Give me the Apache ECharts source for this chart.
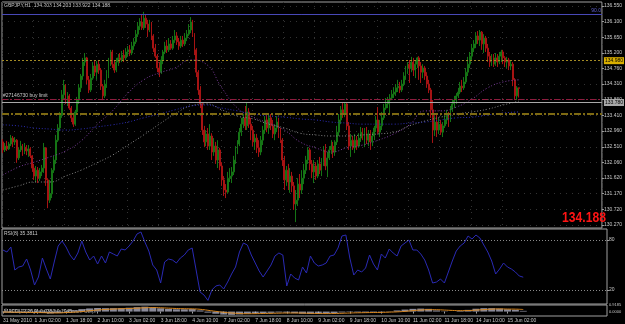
<!DOCTYPE html>
<html>
<head>
<meta charset="utf-8">
<title>GBPJPY,H1</title>
<script src="https://cdn.jsdelivr.net/npm/echarts@6.0.0/dist/echarts.min.js"></script>
<style>
    html, body { margin: 0; padding: 0; background: #000; }
    #chart { width: 625px; height: 324px; }
</style>
</head>
<body>
<div id="chart"></div>
<script type="text/javascript">
// hourly bars, [open, close, low, high], one array per trading day
var may31 = [[132.65,132.42,132.33,132.73],[132.42,132.53,132.36,132.62],[132.53,132.45,132.39,132.68],[132.45,132.59,132.42,132.65],[132.59,132.76,132.53,132.85],[132.76,132.65,132.50,132.82],[132.65,132.70,132.56,132.79],[132.70,132.19,132.05,132.73],[132.19,132.42,132.13,132.50],[132.42,132.53,132.36,132.68],[132.53,132.36,132.25,132.59],[132.36,132.50,132.30,132.62],[132.50,132.39,132.27,132.56],[132.39,132.45,132.22,132.56]];
var jun01 = [[132.45,132.25,132.19,132.50],[132.25,131.90,131.79,132.27],[131.90,131.67,131.56,132.02],[131.67,131.84,131.50,131.96],[131.84,131.61,131.47,131.93],[131.61,131.79,131.53,131.90],[131.79,131.90,131.67,131.99],[131.90,132.48,131.76,132.62],[132.48,131.56,131.39,132.50],[131.56,130.98,130.75,131.61],[130.98,131.16,130.90,131.56],[131.16,131.84,131.04,131.90],[131.84,132.13,131.76,132.25],[132.13,132.70,132.02,132.85],[132.70,133.05,132.65,133.16],[133.05,133.42,132.96,133.51],[133.42,134.00,133.34,134.14],[134.00,134.28,133.85,134.43],[134.28,133.85,133.74,134.31],[133.85,133.97,133.68,134.08],[133.97,133.62,133.57,134.02],[133.62,133.34,133.22,133.68],[133.34,133.16,133.08,133.45],[133.16,133.51,133.11,133.57]];
var jun02 = [[133.51,133.85,133.45,133.94],[133.85,134.20,133.74,134.31],[134.20,134.54,134.08,134.60],[134.54,134.94,134.43,135.06],[134.94,135.06,134.83,135.20],[135.06,134.43,134.31,135.09],[134.43,134.14,134.05,134.54],[134.14,134.48,134.08,134.60],[134.48,134.83,134.43,134.94],[134.83,134.65,134.54,135.00],[134.65,134.88,134.43,134.97],[134.88,134.71,134.60,135.00],[134.71,134.25,134.14,134.77],[134.25,133.97,133.85,134.31],[133.97,134.31,133.91,134.43],[134.31,134.60,134.20,134.71],[134.60,134.94,134.48,135.06],[134.94,135.23,134.83,135.29],[135.23,134.88,134.77,135.29],[134.88,134.71,134.63,135.00],[134.71,134.94,134.65,135.06],[134.94,135.06,134.83,135.17],[135.06,135.00,134.91,135.20],[135.00,135.14,134.94,135.26]];
var jun03 = [[135.14,135.06,134.94,135.29],[135.06,135.23,135.00,135.34],[135.23,135.29,135.11,135.40],[135.29,135.20,135.11,135.43],[135.20,135.40,135.14,135.52],[135.40,135.52,135.29,135.63],[135.52,135.74,135.46,135.86],[135.74,135.97,135.66,136.09],[135.97,136.09,135.86,136.20],[136.09,135.92,135.86,136.29],[135.92,136.20,135.86,136.38],[136.20,136.03,135.92,136.32],[136.03,135.86,135.66,136.15],[135.86,135.97,135.80,136.15],[135.97,135.69,135.57,136.09],[135.69,135.34,135.23,135.74],[135.34,135.11,135.06,135.46],[135.11,134.77,134.65,135.17],[134.77,134.65,134.51,134.94],[134.65,135.00,134.60,135.11],[135.00,135.23,134.88,135.29],[135.23,135.40,135.17,135.52],[135.40,135.29,135.20,135.57],[135.29,135.46,135.23,135.63]];
var jun04 = [[135.46,135.34,135.29,135.57],[135.34,135.57,135.29,135.69],[135.57,135.69,135.49,135.86],[135.69,135.52,135.43,135.80],[135.52,135.40,135.29,135.63],[135.40,135.57,135.34,135.69],[135.57,135.46,135.37,135.69],[135.46,135.63,135.40,135.77],[135.63,135.74,135.54,135.86],[135.74,135.86,135.69,136.03],[135.86,136.09,135.77,136.23],[136.09,135.74,135.66,136.15],[135.74,135.29,135.14,135.77],[135.29,134.65,134.51,135.34],[134.65,134.14,134.00,134.71],[134.14,133.74,133.62,134.25],[133.74,132.99,132.85,133.79],[132.99,132.65,132.50,133.11],[132.65,132.88,132.53,132.99],[132.88,132.53,132.42,133.05],[132.53,132.82,132.42,133.16],[132.82,132.36,132.13,132.90],[132.36,132.53,132.25,132.76],[132.53,132.13,132.02,132.65]];
var jun07 = [[132.13,132.42,131.90,132.70],[132.42,131.96,131.84,132.48],[131.96,131.56,131.39,132.07],[131.56,131.27,131.10,131.67],[131.27,131.21,131.04,131.44],[131.21,131.61,131.16,131.79],[131.61,131.67,131.50,131.90],[131.67,131.79,131.47,131.93],[131.79,132.13,131.70,132.25],[132.13,132.42,132.02,132.53],[132.42,132.59,132.30,132.70],[132.59,132.93,132.53,133.05],[132.93,133.16,132.82,133.34],[133.16,133.34,133.05,133.45],[133.34,133.11,132.99,133.68],[133.11,133.51,132.99,133.77],[133.51,133.16,133.05,133.62],[133.16,132.99,132.70,133.34],[132.99,132.65,132.53,133.11],[132.65,132.76,132.42,132.88],[132.76,132.48,132.33,132.88],[132.48,132.36,132.22,132.70],[132.36,132.70,132.27,132.82],[132.70,132.99,132.56,133.11]];
var jun08 = [[132.99,133.28,132.88,133.39],[133.28,133.05,132.93,133.48],[133.05,133.34,132.88,133.45],[133.34,133.11,132.99,133.45],[133.11,132.88,132.76,133.28],[132.88,133.05,132.70,133.16],[133.05,133.22,132.93,133.39],[133.22,132.93,132.76,133.34],[132.93,132.70,132.62,133.05],[132.70,132.13,131.96,132.76],[132.13,131.56,131.27,132.25],[131.56,131.84,131.39,131.96],[131.84,131.50,131.27,132.02],[131.50,131.67,131.19,131.90],[131.67,131.39,131.21,131.79],[131.39,130.87,130.70,131.50],[130.87,130.98,130.35,131.27],[130.98,131.44,130.81,131.61],[131.44,131.27,131.04,131.73],[131.27,131.61,131.16,131.84],[131.61,131.84,131.44,132.02],[131.84,132.13,131.73,132.25],[132.13,132.42,132.02,132.50],[132.42,132.02,131.84,132.48]];
var jun09 = [[132.02,131.79,131.61,132.13],[131.79,131.96,131.47,132.13],[131.96,131.67,131.56,132.07],[131.67,132.02,131.61,132.13],[132.02,131.84,131.73,132.22],[131.84,132.07,131.67,132.19],[132.07,132.42,131.96,132.53],[132.42,131.96,131.84,132.59],[131.96,132.19,131.64,132.36],[132.19,132.42,132.13,132.53],[132.42,132.53,132.30,132.70],[132.53,132.36,132.19,132.65],[132.36,132.65,132.25,132.70],[132.65,132.93,132.56,133.11],[132.93,133.28,132.82,133.45],[133.28,133.57,133.16,133.68],[133.57,133.45,133.34,133.77],[133.45,133.74,133.36,133.77],[133.74,133.11,132.99,133.79],[133.11,132.53,132.42,133.22],[132.53,132.70,132.22,132.88],[132.70,132.48,132.42,132.82],[132.48,132.70,132.33,132.88],[132.70,132.53,132.42,132.82]];
var jun10 = [[132.53,132.76,132.48,132.90],[132.76,132.93,132.65,133.08],[132.93,132.82,132.70,133.05],[132.82,132.99,132.50,133.05],[132.99,132.70,132.59,133.08],[132.70,132.88,132.53,132.99],[132.88,132.65,132.42,132.99],[132.65,132.82,132.53,132.93],[132.82,133.05,132.70,133.11],[133.05,133.28,132.93,133.39],[133.28,132.93,132.88,133.65],[132.93,133.11,132.79,133.28],[133.11,133.34,132.99,133.51],[133.34,133.62,133.28,133.74],[133.62,133.74,133.57,133.91],[133.74,133.85,133.62,133.94],[133.85,133.91,133.48,134.02],[133.91,134.02,133.85,134.14],[134.02,134.08,133.91,134.22],[134.08,134.20,133.97,134.31],[134.20,134.25,134.08,134.43],[134.25,134.14,134.05,134.37],[134.14,134.31,134.08,134.43],[134.31,134.54,134.25,134.65]];
var jun11 = [[134.54,134.71,134.43,134.83],[134.71,134.88,134.60,134.94],[134.88,134.77,134.34,135.00],[134.77,134.94,134.65,135.09],[134.94,134.71,134.54,135.06],[134.71,134.88,134.48,135.00],[134.88,135.06,134.77,135.09],[135.06,134.83,134.43,135.11],[134.83,134.65,134.34,134.94],[134.65,134.77,134.48,134.88],[134.77,134.54,134.43,134.83],[134.54,134.31,134.20,134.65],[134.31,134.14,134.05,134.43],[134.14,133.57,133.34,134.20],[133.57,132.99,132.62,133.85],[132.99,133.22,132.82,133.39],[133.22,132.99,132.79,133.45],[132.99,133.16,132.88,133.34],[133.16,132.93,132.85,133.28],[132.93,133.11,132.79,133.22],[133.11,133.28,133.05,133.42],[133.28,133.39,133.16,133.57],[133.39,133.34,133.08,133.51],[133.34,133.57,133.22,133.68]];
var jun14 = [[133.57,133.74,133.51,133.85],[133.74,133.85,133.62,133.97],[133.85,133.97,133.74,134.05],[133.97,134.08,133.91,134.20],[134.08,134.25,134.02,134.37],[134.25,134.20,134.08,134.43],[134.20,134.37,134.14,134.51],[134.37,134.65,134.31,134.77],[134.65,134.88,134.54,135.09],[134.88,135.11,134.77,135.23],[135.11,135.34,135.00,135.46],[135.34,135.46,135.23,135.57],[135.46,135.69,135.34,135.80],[135.69,135.57,135.46,135.83],[135.57,135.80,135.40,135.86],[135.80,135.46,135.29,135.83],[135.46,135.63,135.20,135.74],[135.63,135.34,135.23,135.69],[135.34,135.11,134.94,135.46],[135.11,134.94,134.80,135.23],[134.94,135.06,134.83,135.17],[135.06,134.88,134.80,135.17],[134.88,135.06,134.83,135.20],[135.06,134.94,134.80,135.17]];
var jun15 = [[134.94,135.11,134.88,135.23],[135.11,135.23,134.94,135.29],[135.23,135.06,134.88,135.29],[135.06,134.94,134.80,135.11],[134.94,135.00,134.77,135.09],[135.00,134.83,134.71,135.06],[134.83,134.88,134.71,135.00],[134.88,134.43,134.25,134.94],[134.43,133.97,133.85,134.48],[133.97,134.20,133.85,134.25],[134.203,134.188,133.922,134.203]];

// time labels, one every 16 bars
var tickLabels = ['31 May 2010','1 Jun 02:00','1 Jun 18:00','2 Jun 10:00','3 Jun 02:00','3 Jun 18:00','4 Jun 10:00','7 Jun 02:00','7 Jun 18:00','8 Jun 10:00','9 Jun 02:00','9 Jun 18:00','10 Jun 10:00','11 Jun 02:00','11 Jun 18:00','14 Jun 10:00','15 Jun 02:00'];
var priceTicks = [136.55,136.10,135.65,135.20,134.76,134.31,133.86,133.41,132.96,132.51,132.06,131.62,131.17,130.72,130.27];

// moving averages, read every 8 bars
var maFast = [131.70,131.93,132.07,132.22,132.39,132.68,133.14,133.54,134.05,134.43,134.63,134.77,135.00,134.88,134.20,133.62,133.36,133.19,132.99,132.65,132.48,132.36,132.48,132.56,132.70,132.88,133.14,133.54,133.54,133.65,133.88,134.20,134.37,134.43];
var maMid = [131.27,131.39,131.50,131.50,131.67,131.84,132.05,132.27,132.56,132.85,133.16,133.45,133.68,133.74,133.57,133.39,133.31,133.16,133.05,132.90,132.85,132.82,132.82,132.85,132.88,132.93,133.11,133.25,133.36,133.45,133.51,133.59,133.71,133.82];
var maSlow = [133.14,133.11,133.05,133.02,132.99,133.02,133.08,133.14,133.22,133.34,133.45,133.57,133.68,133.71,133.62,133.54,133.45,133.39,133.36,133.31,133.28,133.22,133.19,133.16,133.16,133.16,133.19,133.22,133.28,133.34,133.36,133.42,133.48,133.51];

// RSI(8), read every 2 bars
var rsi = [68,65.6,71.6,44,47.6,48.8,57.2,44,26,35.6,58.4,45.2,33.2,53.6,72.8,78.8,71.6,62,56,64.4,78.8,65.6,56,60.8,51.2,60.8,52.4,65.6,63.2,60.8,69.2,68,72.8,78.8,87.2,89.6,77.6,66.8,50,44,28.4,53.6,57.2,56,52.4,58.4,62,68,70.4,44,17.6,14,7.5,20,24.8,26,21.2,29.6,39.2,47.6,65.6,76.4,74,62,52.4,42.8,35.6,42.8,50,60.8,64.4,62,24.8,39.2,34.4,32,47.6,40.4,60.8,52.4,48.8,50,52.4,60.8,62,70.4,84.8,86,58.4,38,44,41.6,46.4,62,51.2,44,63.2,58.4,69.2,64.4,60.8,72.8,76.4,80,68,68,63.2,56,44,28.4,29.6,33.2,28.4,41.6,54.8,66.8,72.8,76.4,84.8,81.2,86,82.4,74,65.6,54.8,39.2,45.2,52.4,47.6,45.2,41.6,36.8,35.38];

// MACD(12,26,9), read every 4 bars
var macdHist = [-0.10,-0.12,-0.12,-0.14,-0.18,-0.20,-0.26,-0.18,0.02,0.18,0.34,0.44,0.50,0.48,0.48,0.48,0.54,0.62,0.68,0.60,0.46,0.36,0.32,0.32,0.35,0.16,-0.15,-0.30,-0.42,-0.46,-0.40,-0.30,-0.25,-0.22,-0.18,-0.12,-0.15,-0.22,-0.30,-0.32,-0.30,-0.28,-0.22,-0.12,-0.06,-0.10,-0.12,-0.10,-0.05,0.04,0.16,0.28,0.38,0.42,0.38,0.16,0.04,0.00,0.08,0.24,0.40,0.48,0.48,0.42,0.32,0.24,0.10];
var macdSignal = [-0.06,-0.08,-0.10,-0.11,-0.13,-0.15,-0.18,-0.19,-0.14,-0.08,0.00,0.11,0.22,0.30,0.35,0.40,0.43,0.48,0.53,0.56,0.53,0.48,0.43,0.40,0.38,0.32,0.18,0.03,-0.10,-0.20,-0.27,-0.30,-0.29,-0.27,-0.25,-0.22,-0.20,-0.20,-0.22,-0.25,-0.27,-0.28,-0.27,-0.24,-0.20,-0.17,-0.15,-0.13,-0.12,-0.08,-0.04,0.03,0.13,0.21,0.27,0.26,0.21,0.16,0.13,0.14,0.21,0.27,0.34,0.37,0.35,0.34,0.29];

// horizontal objects on the price window
var fiboLevel = 136.32, fiboText = '90.0';
var pendingLevel = 134.98, pendingText = '134.980';
var lastPrice = 134.188, lastText = '134.188';
var buyLimit = 133.88, buyLimitText = '#27146730 buy limit';
var askLine = 133.78, askText = '133.780';
var oliveLevel = 133.45;

var headerText = 'GBPJPY,H1  134.203 134.203 133.922 134.188';
var rsiText = 'RSI(8) 35.3811';
var macdText = 'MACD(12,26,9) 0.0352 0.1045';
var copyText = '\u00a9 2001-2010 MetaQuotes Software Corp.';

var bars = [].concat(may31, jun01, jun02, jun03, jun04, jun07, jun08, jun09, jun10, jun11, jun14, jun15);
var slots = [];
for (var i = 0; i < 307; i++) slots.push(String(i));

function spread(arr, step) {
    return arr.map(function (v, k) { return [k * step, v]; });
}
function isLabel(idx) {
    return idx % 16 === 0 && idx / 16 < tickLabels.length;
}

var font = 'Liberation Sans';
var txt = '#c8c8c8';
var dots = { color: '#333333', type: [1, 5], width: 1 };
var up = '#157415', down = '#a61313';

var myChart = echarts.init(document.getElementById('chart'));
myChart.setOption({
    backgroundColor: '#000',
    animation: false,
    grid: [
        { left: 2, top: 2, width: 605, height: 226, show: true, borderColor: '#a0a0a0', borderWidth: 1 },
        { left: 2, top: 229, width: 605, height: 75, show: true, borderColor: '#a0a0a0', borderWidth: 1 },
        { left: 2, top: 305, width: 605, height: 11, show: true, borderColor: '#a0a0a0', borderWidth: 1 }
    ],
    xAxis: [
        { type: 'category', gridIndex: 0, data: slots, axisLine: { show: false }, axisTick: { show: false }, axisLabel: { show: false },
          splitLine: { show: true, interval: function (idx) { return isLabel(idx); }, lineStyle: dots } },
        { type: 'category', gridIndex: 1, data: slots, axisLine: { show: false }, axisTick: { show: false }, axisLabel: { show: false } },
        { type: 'category', gridIndex: 2, data: slots, axisLine: { show: false },
          axisTick: { show: true, alignWithLabel: true, interval: function (idx) { return isLabel(idx); }, length: 2, lineStyle: { color: '#a0a0a0' } },
          axisLabel: { interval: function (idx) { return isLabel(idx); }, align: 'left', margin: 2, fontSize: 5, fontFamily: font, color: txt,
                       formatter: function (v) { return tickLabels[Number(v) / 16]; } } }
    ],
    yAxis: [
        { type: 'value', gridIndex: 0, position: 'right', min: 130.181, max: 136.663, axisLine: { show: false },
          axisTick: { show: true, length: 2, customValues: priceTicks, lineStyle: { color: '#a0a0a0' } },
          axisLabel: { customValues: priceTicks, margin: 2, fontSize: 5, fontFamily: font, color: txt, formatter: function (v) { return v.toFixed(3); } },
          splitLine: { show: true, lineStyle: dots } },
        { type: 'value', gridIndex: 1, position: 'right', min: 3.2, max: 93.2, axisLine: { show: false },
          axisTick: { show: true, length: 2, customValues: [20, 80], lineStyle: { color: '#a0a0a0' } },
          axisLabel: { customValues: [20, 80], margin: 2, fontSize: 5, fontFamily: font, color: txt },
          splitLine: { show: false } },
        { type: 'value', gridIndex: 2, position: 'right', min: -0.62, max: 0.92, axisLine: { show: false },
          axisTick: { show: false },
          axisLabel: { customValues: [0.9185, 0], margin: 2, fontSize: 4, fontFamily: font, color: txt, formatter: function (v) { return v.toFixed(4); } },
          splitLine: { show: false } }
    ],
    series: [
        { name: 'GBPJPY', type: 'candlestick', xAxisIndex: 0, yAxisIndex: 0, data: bars, barWidth: 1.4,
          itemStyle: { color: up, color0: down, borderColor: up, borderColor0: down, borderWidth: 1 },
          markLine: {
              symbol: ['none', 'none'], silent: true, animation: false,
              data: [
                  { yAxis: fiboLevel, lineStyle: { color: '#4848b8', type: 'solid', width: 1 },
                    label: { show: true, position: 'insideEndTop', formatter: fiboText, color: '#6060cc', fontSize: 5, fontFamily: font, distance: 1 } },
                  { yAxis: pendingLevel, lineStyle: { color: '#a48c24', type: [2, 2], width: 1 },
                    label: { show: true, position: 'end', formatter: pendingText, color: '#000', backgroundColor: '#d8ae00', fontSize: 5, fontFamily: font, padding: [1, 1], distance: 2 } },
                  { yAxis: lastPrice, lineStyle: { opacity: 0 },
                    label: { show: true, position: 'end', formatter: lastText, color: '#000', backgroundColor: '#f0f0f0', fontSize: 5, fontFamily: font, padding: [1, 1], distance: 2 } },
                  { yAxis: buyLimit, lineStyle: { color: '#8e1c3e', type: [6, 2, 2, 2], width: 1 },
                    label: { show: true, position: 'insideStartTop', formatter: buyLimitText, color: txt, fontSize: 5, fontFamily: font, distance: 1 } },
                  { yAxis: askLine, lineStyle: { color: '#a8a8a8', type: 'solid', width: 1 },
                    label: { show: true, position: 'end', formatter: askText, color: '#000', backgroundColor: '#a8a8a8', fontSize: 5, fontFamily: font, padding: [1, 1], distance: 2 } },
                  { yAxis: oliveLevel, lineStyle: { color: '#7e6a12', type: [7, 2, 2, 2], width: 2 }, label: { show: false } }
              ]
          } },
        { name: 'MA fast', type: 'line', xAxisIndex: 0, yAxisIndex: 0, data: spread(maFast, 8), smooth: true, symbol: 'none', z: 3,
          lineStyle: { color: '#7c3c9e', width: 1, type: [1, 2] } },
        { name: 'MA mid', type: 'line', xAxisIndex: 0, yAxisIndex: 0, data: spread(maMid, 8), smooth: true, symbol: 'none', z: 3,
          lineStyle: { color: '#858585', width: 1, type: [1, 2] } },
        { name: 'MA slow', type: 'line', xAxisIndex: 0, yAxisIndex: 0, data: spread(maSlow, 8), smooth: true, symbol: 'none', z: 3,
          lineStyle: { color: '#2c2cb4', width: 1, type: [1, 2] } },
        { name: 'RSI', type: 'line', xAxisIndex: 1, yAxisIndex: 1, data: spread(rsi, 2), symbol: 'none',
          lineStyle: { color: '#2a2ab4', width: 1 },
          markLine: { symbol: ['none', 'none'], silent: true, animation: false, label: { show: false },
                      lineStyle: { color: '#8a8a8a', type: [1, 2], width: 1 },
                      data: [{ yAxis: 80 }, { yAxis: 20 }] } },
        { name: 'MACD', type: 'bar', xAxisIndex: 2, yAxisIndex: 2, data: spread(macdHist, 4), barWidth: 7,
          itemStyle: { color: 'rgba(184,184,204,0.75)' } },
        { name: 'Signal', type: 'line', xAxisIndex: 2, yAxisIndex: 2, data: spread(macdSignal, 4), smooth: true, symbol: 'none', z: 3,
          lineStyle: { color: '#d8861e', width: 1 } }
    ],
    graphic: [
        { type: 'text', left: 4, top: 3, style: { text: headerText, fill: txt, font: '5px ' + font } },
        { type: 'text', left: 4, top: 231, style: { text: rsiText, fill: txt, font: '5px ' + font } },
        { type: 'text', left: 4, top: 309, style: { text: copyText, fill: '#9a9a9a', font: '5px ' + font } },
        { type: 'text', left: 4, top: 309, style: { text: macdText, fill: txt, font: '5px ' + font } },
        { type: 'text', x: 606, y: 225, scaleX: 0.87, style: { text: lastText, fill: '#ff1414', font: 'bold 14px ' + font, textAlign: 'right', textVerticalAlign: 'bottom' } }
    ]
});
</script>
</body>
</html>
